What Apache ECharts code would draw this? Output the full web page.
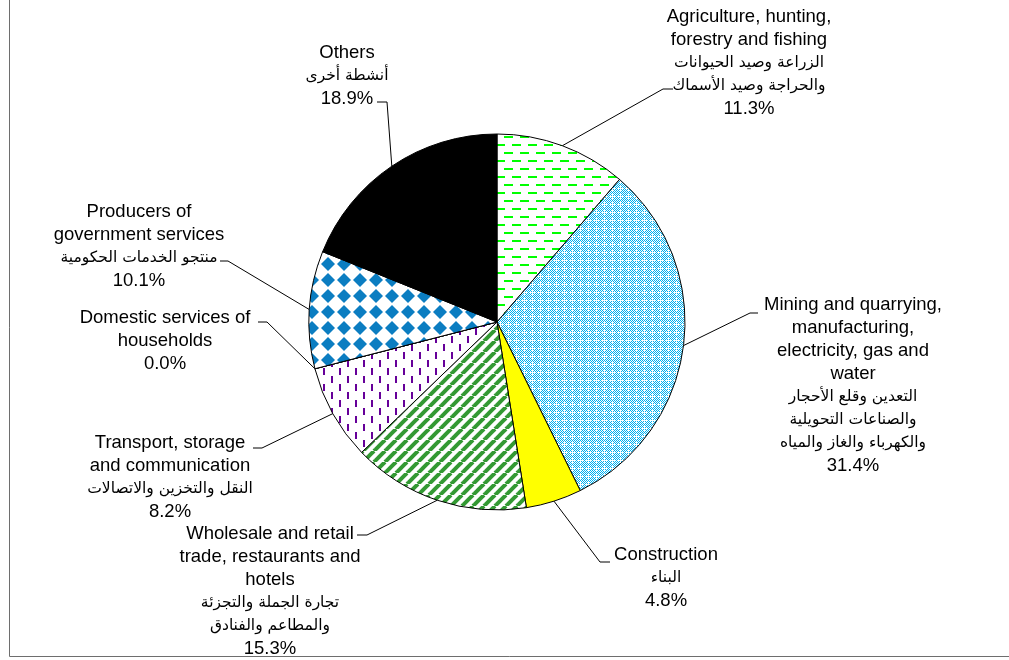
<!DOCTYPE html>
<html>
<head>
<meta charset="utf-8">
<script src="https://cdn.jsdelivr.net/npm/echarts@6/dist/echarts.min.js"></script>
<style>
  html, body { margin: 0; padding: 0; background: #fff; }
  #chart { width: 1009px; height: 660px; }
</style>
</head>
<body>
<div id="chart"></div>
<script>
// data (clockwise from 12 o'clock)
const categories = [
  'Agriculture, hunting,\nforestry and fishing',
  'Mining and quarrying,\nmanufacturing,\nelectricity, gas and\nwater',
  'Construction',
  'Wholesale and retail\ntrade, restaurants and\nhotels',
  'Transport, storage\nand communication',
  'Domestic services of\nhouseholds',
  'Producers of\ngovernment services',
  'Others'
]
const arabicNames = [
  'الزراعة وصيد الحيوانات\nوالحراجة وصيد الأسماك',
  'التعدين وقلع الأحجار\nوالصناعات التحويلية\nوالكهرباء والغاز والمياه',
  'البناء',
  'تجارة الجملة والتجزئة\nوالمطاعم والفنادق',
  'النقل والتخزين والاتصالات',
  '',
  'منتجو الخدمات الحكومية',
  'أنشطة أخرى'
]
const shares = [11.3, 31.4, 4.8, 15.3, 8.2, 0.0, 10.1, 18.9]

// where each label sits (centre x, top y) and the elbow / end of its leader line
const labelPos = [[749, 5], [853, 293], [666, 543], [270, 522], [170, 431], [165, 306], [139, 200], [347, 41]]
const leaderEnd = [
  [[663, 89], [673, 89]],
  [[750, 313], [758, 313]],
  [[600, 562], [610, 562]],
  [[367, 535], [357, 535]],
  [[262, 448], [253, 448]],
  [[267, 322], [258, 322]],
  [[228, 261], [220, 261]],
  [[387, 102], [377, 102]]
]

// small repeating tiles, like the Excel fill patterns
function tile(w, h, draw) {
  const c = document.createElement('canvas')
  c.width = w
  c.height = h
  const g = c.getContext('2d')
  g.fillStyle = '#fff'
  g.fillRect(0, 0, w, h)
  draw(g)
  return { image: c, repeat: 'repeat' }
}

const fills = [
  // green dashes
  tile(16, 16, g => {
    g.fillStyle = '#00ff00'
    g.fillRect(0, 0, 9, 2)
    g.fillRect(8, 8, 9, 2)
    g.fillRect(-8, 8, 9, 2)
  }),
  // fine cyan checker with white crosses
  tile(8, 8, g => {
    g.fillStyle = '#00b0f0'
    for (let x = 0; x < 8; x++) {
      for (let y = 0; y < 8; y++) {
        if ((x + y) % 2 === 0) g.fillRect(x, y, 1, 1)
      }
    }
    g.fillStyle = '#fff'
    ;[[4, 4], [2, 4], [6, 4], [4, 2], [4, 6]].forEach(p => g.fillRect(p[0], p[1], 1, 1))
  }),
  '#ffff00',
  // green diagonal stripes
  tile(11, 11, g => {
    g.strokeStyle = '#339933'
    g.lineWidth = 4
    for (const k of [-11, 0, 11]) {
      g.beginPath()
      g.moveTo(k, 11)
      g.lineTo(k + 11, 0)
      g.stroke()
    }
  }),
  // purple vertical dashes
  tile(16, 16, g => {
    g.fillStyle = '#660099'
    g.fillRect(3, 0, 2, 7)
    g.fillRect(11, 8, 2, 7)
  }),
  '#ffffff',
  // blue diamonds
  tile(16, 16, g => {
    g.fillStyle = '#0b7dc1'
    g.beginPath()
    g.moveTo(8, 1)
    g.lineTo(15, 8)
    g.lineTo(8, 15)
    g.lineTo(1, 8)
    g.closePath()
    g.fill()
  }),
  '#000000'
]

const chart = echarts.init(document.getElementById('chart'))

chart.setOption({
  animation: false,
  backgroundColor: '#fff',
  graphic: [{
    type: 'rect',
    silent: true,
    shape: { x: 9.5, y: -2, width: 1010, height: 658.5 },
    style: { fill: 'none', stroke: '#6e6e6e', lineWidth: 1 }
  }],
  series: [{
    type: 'pie',
    silent: true,
    center: [497, 322],
    radius: 188,
    startAngle: 90,
    clockwise: true,
    avoidLabelOverlap: false,
    data: categories.map((name, i) => ({
      name: name,
      value: shares[i],
      itemStyle: { color: fills[i] }
    })),
    itemStyle: { borderColor: '#000', borderWidth: 1 },
    label: {
      show: true,
      position: 'outside',
      color: '#000',
      formatter: function (p) {
        const i = p.dataIndex
        let s = categories[i].split('\n').map(t => '{en|' + t + '}').join('\n')
        if (arabicNames[i]) {
          s += '\n' + arabicNames[i].split('\n').map(t => '{ar|' + t + '}').join('\n')
        }
        s += '\n{en|' + shares[i].toFixed(1) + '%}'
        return s
      },
      rich: {
        en: { fontFamily: 'Liberation Sans', fontSize: 18.5, lineHeight: 23, color: '#000', align: 'center' },
        ar: { fontFamily: 'DejaVu Sans', fontSize: 15.5, lineHeight: 23, color: '#000', align: 'center' }
      }
    },
    labelLine: { show: true, lineStyle: { color: '#000', width: 1 } },
    labelLayout: function (p) {
      const i = p.dataIndex
      const out = {
        x: labelPos[i][0],
        y: labelPos[i][1],
        align: 'center',
        verticalAlign: 'top'
      }
      if (p.labelLinePoints && p.labelLinePoints[0]) {
        out.labelLinePoints = [p.labelLinePoints[0], leaderEnd[i][0], leaderEnd[i][1]]
      }
      return out
    }
  }]
})
</script>
</body>
</html>
